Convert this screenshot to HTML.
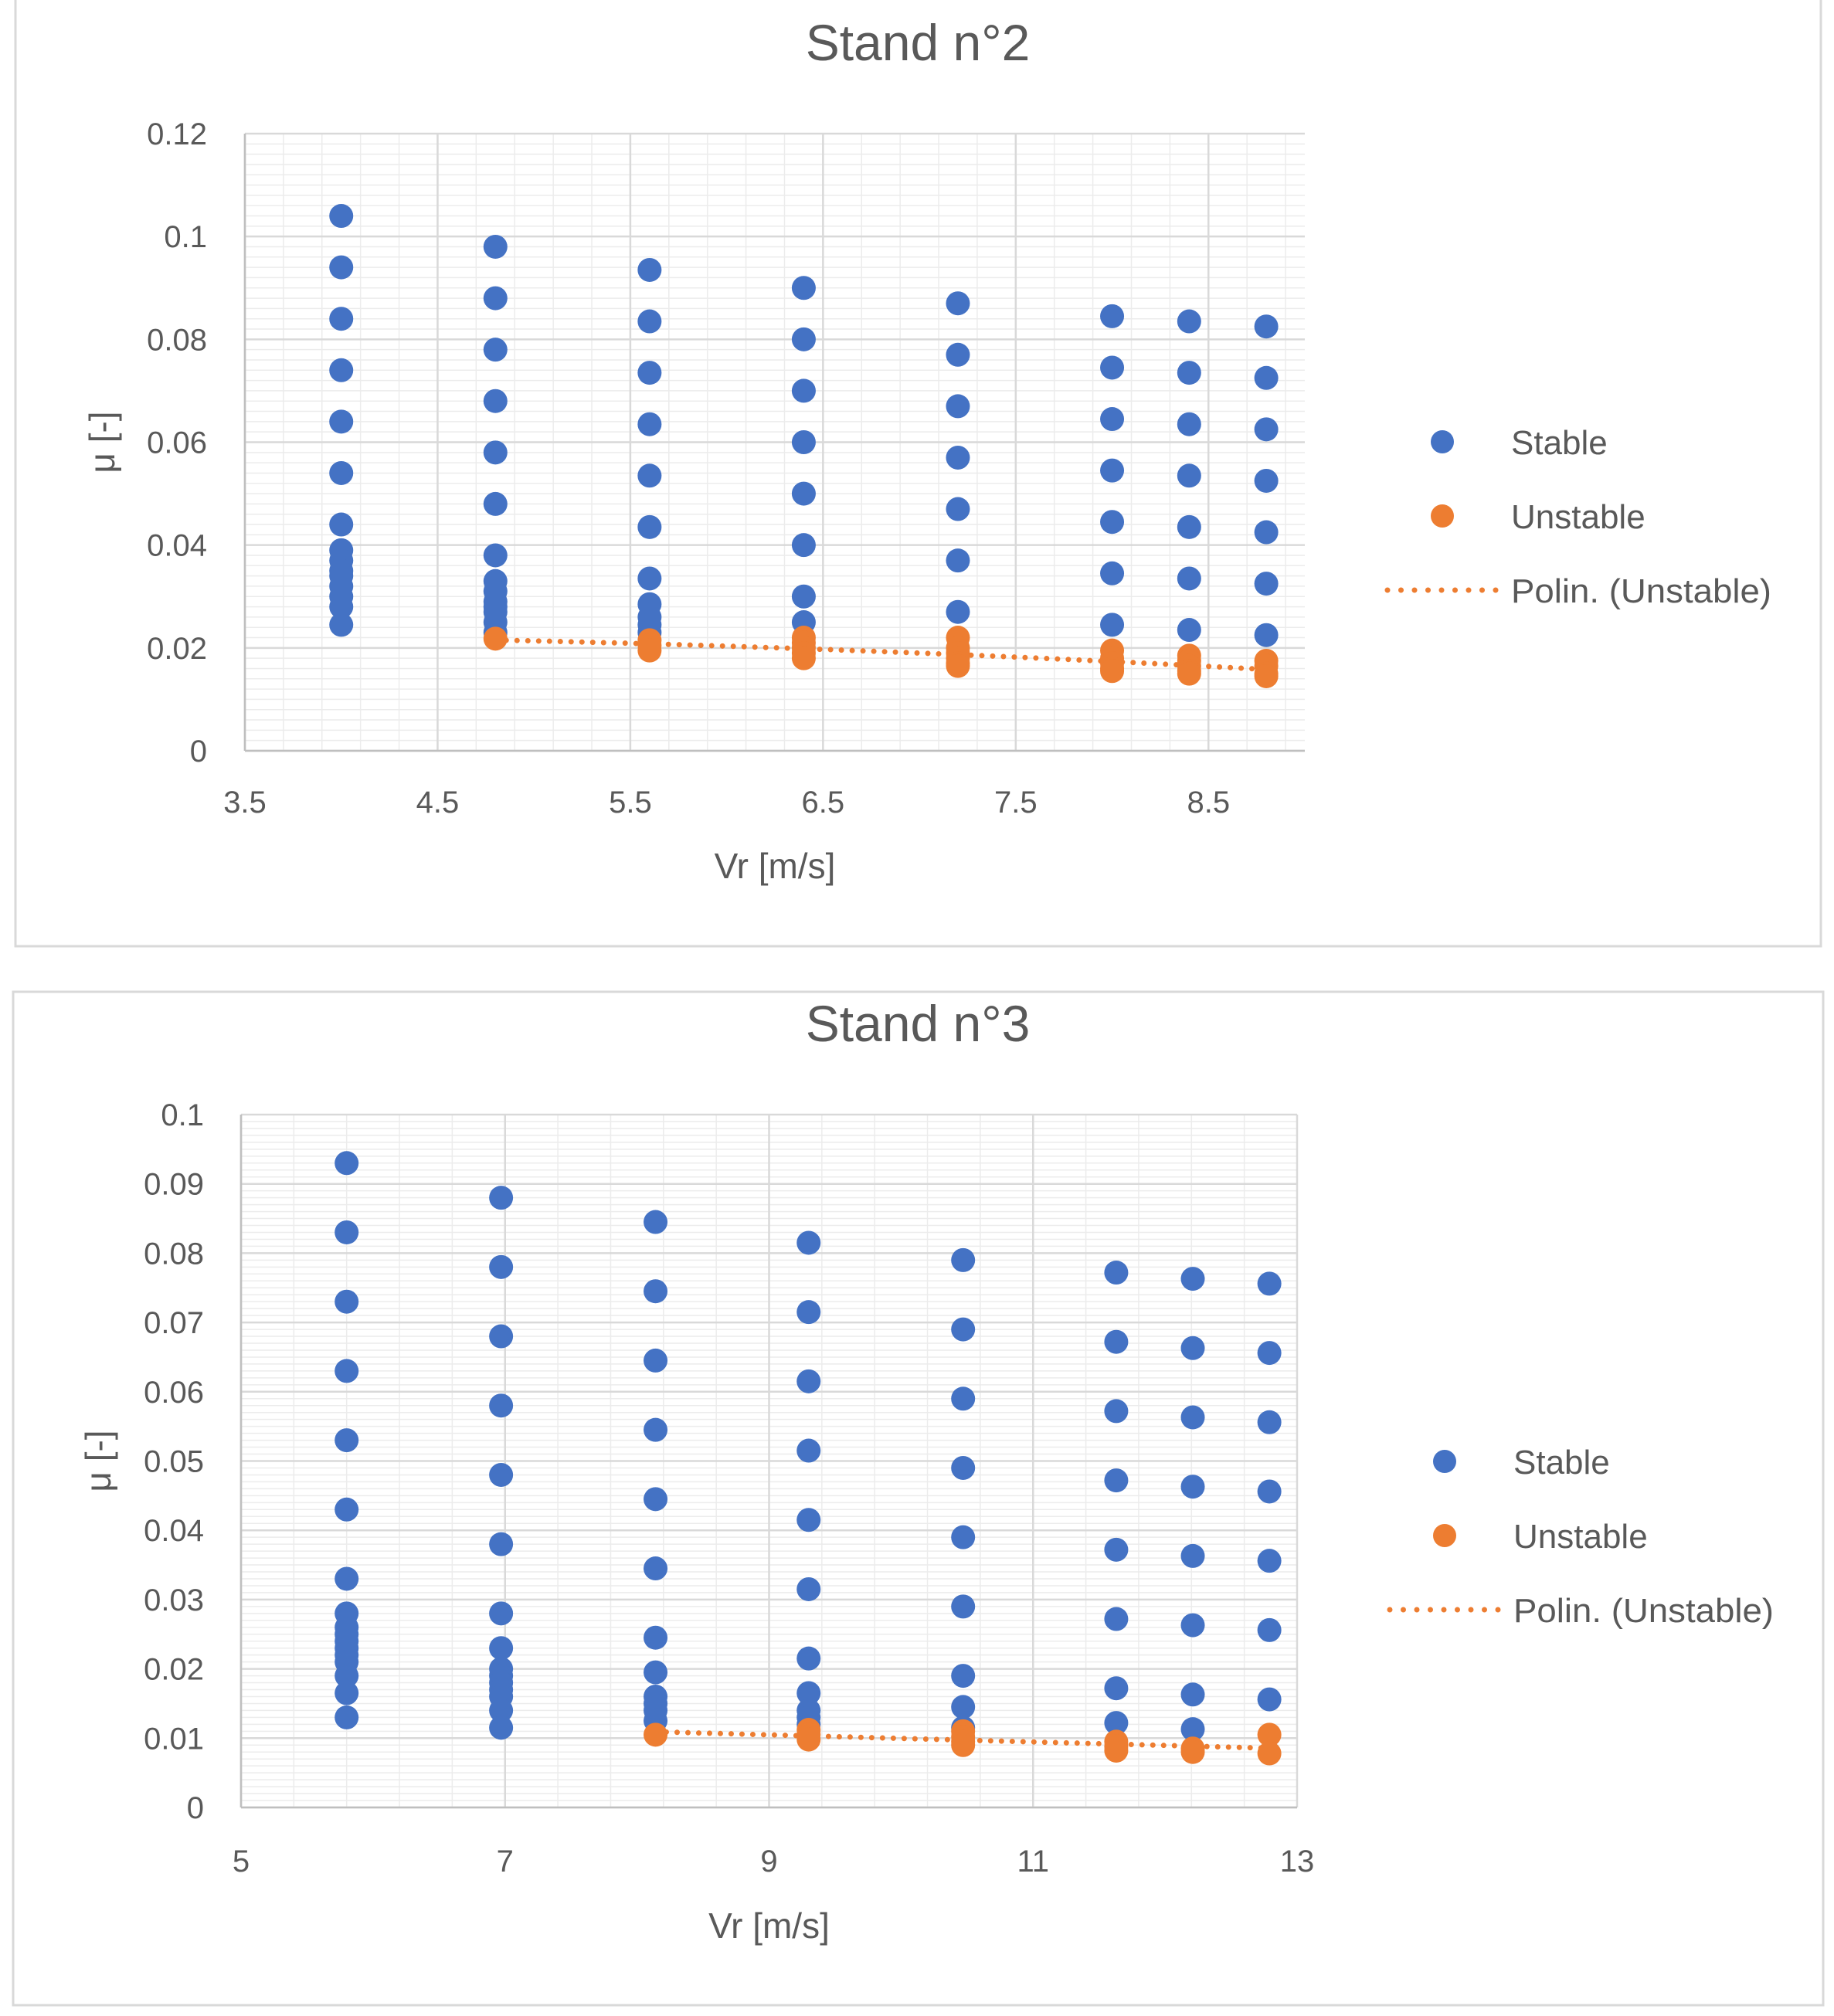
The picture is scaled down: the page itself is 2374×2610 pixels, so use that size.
<!DOCTYPE html>
<html><head><meta charset="utf-8"><style>
html,body{margin:0;padding:0;background:#fff}
svg{display:block;font-family:"Liberation Sans",sans-serif}
</style></head><body>
<svg id="root" width="2374" height="2610" viewBox="0 0 2374 2610" xmlns="http://www.w3.org/2000/svg">
<rect x="0" y="0" width="2374" height="2610" fill="#fff"/>
<g id="c1"></g>
<g id="c2"></g>
</svg>
<script>
// ---- Chart 1 data (Stand n°2) ----
const c1StableX = [4.0,4.8,5.6,6.4,7.2,8.0,8.4,8.8];
const c1StableY = [
 [0.104,0.094,0.084,0.074,0.064,0.054,0.044,0.039,0.037,0.035,0.034,0.032,0.030,0.028,0.0245],
 [0.098,0.088,0.078,0.068,0.058,0.048,0.038,0.033,0.031,0.029,0.028,0.027,0.025,0.023],
 [0.0935,0.0835,0.0735,0.0635,0.0535,0.0435,0.0335,0.0285,0.026,0.0245,0.023],
 [0.090,0.080,0.070,0.060,0.050,0.040,0.030,0.025],
 [0.087,0.077,0.067,0.057,0.047,0.037,0.027],
 [0.0845,0.0745,0.0645,0.0545,0.0445,0.0345,0.0245],
 [0.0835,0.0735,0.0635,0.0535,0.0435,0.0335,0.0235],
 [0.0825,0.0725,0.0625,0.0525,0.0425,0.0325,0.0225]
];
const c1UnstableX = [4.8,5.6,6.4,7.2,8.0,8.4,8.8];
const c1UnstableY = [
 [0.0218],
 [0.0215,0.0205,0.0195],
 [0.022,0.021,0.020,0.019,0.018],
 [0.022,0.020,0.019,0.018,0.017,0.0165],
 [0.0195,0.018,0.017,0.016,0.0155],
 [0.0185,0.0175,0.0165,0.0155,0.015],
 [0.0175,0.0165,0.015,0.0145]
];
const c1XTicks = ["3.5","4.5","5.5","6.5","7.5","8.5"];
const c1YTicks = ["0","0.02","0.04","0.06","0.08","0.1","0.12"];

// ---- Chart 2 data (Stand n°3) ----
const c2StableX = [5.8,6.97,8.14,9.3,10.47,11.63,12.21,12.79];
const c2StableY = [
 [0.093,0.083,0.073,0.063,0.053,0.043,0.033,0.028,0.026,0.025,0.024,0.023,0.022,0.021,0.019,0.0165,0.013],
 [0.088,0.078,0.068,0.058,0.048,0.038,0.028,0.023,0.020,0.019,0.018,0.017,0.016,0.014,0.0115],
 [0.0845,0.0745,0.0645,0.0545,0.0445,0.0345,0.0245,0.0195,0.016,0.015,0.014,0.0125],
 [0.0815,0.0715,0.0615,0.0515,0.0415,0.0315,0.0215,0.0165,0.014,0.013,0.012],
 [0.079,0.069,0.059,0.049,0.039,0.029,0.019,0.0145,0.0115],
 [0.0772,0.0672,0.0572,0.0472,0.0372,0.0272,0.0172,0.0122],
 [0.0763,0.0663,0.0563,0.0463,0.0363,0.0263,0.0163,0.0113],
 [0.0756,0.0656,0.0556,0.0456,0.0356,0.0256,0.0156]
];
const c2UnstableX = [8.14,9.3,10.47,11.63,12.21,12.79];
const c2UnstableY = [
 [0.0105],
 [0.0112,0.0105,0.0098],
 [0.011,0.0102,0.0095,0.009],
 [0.0095,0.0088,0.0082],
 [0.0085,0.008],
 [0.0105,0.0078]
];
const c2XTicks = ["5","7","9","11","13"];
const c2YTicks = ["0","0.01","0.02","0.03","0.04","0.05","0.06","0.07","0.08","0.09","0.1"];

const NS="http://www.w3.org/2000/svg";
function mk(parent,tag,attrs,text){
  const e=document.createElementNS(NS,tag);
  for(const k in attrs) e.setAttribute(k,attrs[k]);
  if(text!==undefined) e.textContent=text;
  parent.appendChild(e); return e;
}
function fitQuad(xs,ys){
  let S=[0,0,0,0,0],T=[0,0,0];
  for(let i=0;i<xs.length;i++){let p=1;for(let k=0;k<5;k++){S[k]+=p;if(k<3)T[k]+=p*ys[i];p*=xs[i];}}
  const A=[[S[0],S[1],S[2],T[0]],[S[1],S[2],S[3],T[1]],[S[2],S[3],S[4],T[2]]];
  for(let i=0;i<3;i++){for(let j=i+1;j<3;j++){const f=A[j][i]/A[i][i];for(let k=i;k<4;k++)A[j][k]-=f*A[i][k];}}
  const c=[0,0,0];
  for(let i=2;i>=0;i--){let s=A[i][3];for(let k=i+1;k<3;k++)s-=A[i][k]*c[k];c[i]=s/A[i][i];}
  return x=>c[0]+c[1]*x+c[2]*x*x;
}
function drawChart(g,cfg){
  const {frame,title,titleY,px0,px1,py0,py1,xmin,xmax,ymin,ymax,xMajor,xMinor,yMajor,yMinor,
    xTicks,yTicks,sX,sY,uX,uY,ytX,xtY,ylabX,xlabY,legX,legY}=cfg;
  const X=v=>px0+(v-xmin)/(xmax-xmin)*(px1-px0);
  const Y=v=>py0-(v-ymin)/(ymax-ymin)*(py0-py1);
  const fr=mk(g,'rect',{x:frame[0],y:frame[1],width:frame[2],height:frame[3],fill:'#fff',stroke:'#d9d9d9','stroke-width':3});
  
  
  const t=mk(g,'text',{x:1188,y:titleY,'font-size':66,fill:'#595959','text-anchor':'middle'},title);
  
  
  const grid=mk(g,'g',{});
  
  
  const eps=1e-9;
  for(let v=ymin;v<=ymax+eps;v+=yMinor){mk(grid,'line',{x1:px0,x2:px1,y1:Y(v),y2:Y(v),stroke:'#ececec','stroke-width':1.5});}
  for(let i=0;xmin+i*xMinor<=xmax+eps;i++){const v=xmin+i*xMinor;mk(grid,'line',{x1:X(v),x2:X(v),y1:py0,y2:py1,stroke:'#ececec','stroke-width':1.5});}
  for(let i=0;ymin+i*yMajor<=ymax+eps;i++){const v=ymin+i*yMajor;mk(grid,'line',{x1:px0,x2:px1,y1:Y(v),y2:Y(v),stroke:'#d9d9d9','stroke-width':2.5});}
  for(let i=0;xmin+i*xMajor<=xmax+eps;i++){const v=xmin+i*xMajor;mk(grid,'line',{x1:X(v),x2:X(v),y1:py0,y2:py1,stroke:'#d9d9d9','stroke-width':2.5});}
  mk(grid,'line',{x1:px0,x2:px1,y1:py0,y2:py0,stroke:'#bfbfbf','stroke-width':2.5});
  mk(grid,'line',{x1:px0,x2:px0,y1:py0,y2:py1,stroke:'#bfbfbf','stroke-width':2.5});
  yTicks.forEach((lab,i)=>{
    const e=mk(g,'text',{x:ytX,y:Y(ymin+i*yMajor)+14,'font-size':40,fill:'#595959','text-anchor':'end'},lab);
    
    
  });
  xTicks.forEach((lab,i)=>{
    const e=mk(g,'text',{x:X(xmin+i*xMajor),y:xtY,'font-size':40,fill:'#595959','text-anchor':'middle'},lab);
    
    
  });
  const xl=mk(g,'text',{x:(px0+px1)/2,y:xlabY,'font-size':46,fill:'#595959','text-anchor':'middle'},'Vr [m/s]');
  
  
  const yl=mk(g,'text',{x:0,y:0,'font-size':46,fill:'#595959','text-anchor':'middle',transform:`translate(${ylabX},${(py0+py1)/2}) rotate(-90)`},'μ [-]');
  
  
  const fx=[],fy=[];
  uX.forEach((x,i)=>uY[i].forEach(y=>{fx.push(x);fy.push(y);}));
  const f=fitQuad(fx,fy);
  let d='';const a=uX[0],b=uX[uX.length-1];
  for(let i=0;i<=60;i++){const x=a+(b-a)*i/60;d+=(i?'L':'M')+X(x).toFixed(1)+' '+Y(f(x)).toFixed(1);}
  const tl=mk(g,'path',{d:d,fill:'none',stroke:'#ed7d31','stroke-width':7,'stroke-dasharray':'0 14','stroke-linecap':'round'});
  
  
  const sg=mk(g,'g',{});
  
  
  sX.forEach((x,i)=>sY[i].forEach(y=>{
    const c=mk(sg,'circle',{cx:X(x),cy:Y(y),r:15.5,fill:'#4472c4'});
    
    
  }));
  const ug=mk(g,'g',{});
  
  
  uX.forEach((x,i)=>uY[i].forEach(y=>{
    const c=mk(ug,'circle',{cx:X(x),cy:Y(y),r:15.5,fill:'#ed7d31'});
    
    
  }));
  const lg=mk(g,'g',{});
  
  
  const e1=mk(lg,'circle',{cx:legX+75,cy:legY,r:15,fill:'#4472c4'});
  
  
  const t1=mk(lg,'text',{x:legX+164,y:legY+16,'font-size':44,fill:'#595959'},'Stable');
  
  
  const e2=mk(lg,'circle',{cx:legX+75,cy:legY+96,r:15,fill:'#ed7d31'});
  
  
  const t2=mk(lg,'text',{x:legX+164,y:legY+112,'font-size':44,fill:'#595959'},'Unstable');
  
  
  const e3=mk(lg,'line',{x1:legX+4,x2:legX+146,y1:legY+192,y2:legY+192,stroke:'#ed7d31','stroke-width':7,'stroke-dasharray':'0 17.5','stroke-linecap':'round'});
  
  
  const t3=mk(lg,'text',{x:legX+164,y:legY+208,'font-size':44,fill:'#595959',textLength:337,lengthAdjust:'spacingAndGlyphs'},'Polin. (Unstable)');
  
  
}
drawChart(document.getElementById('c1'),{
  frame:[20,-2,2337,1227],title:'Stand n°2',titleY:78,
  px0:317,px1:1689,py0:972,py1:173,xmin:3.5,xmax:9.0,ymin:0,ymax:0.12,
  xMajor:1,xMinor:0.2,yMajor:0.02,yMinor:0.002,
  xTicks:c1XTicks,yTicks:c1YTicks,sX:c1StableX,sY:c1StableY,uX:c1UnstableX,uY:c1UnstableY,
  ytX:268,xtY:1052,ylabX:148,xlabY:1137,legX:1792,legY:572
});
drawChart(document.getElementById('c2'),{
  frame:[17,1284,2343,1312],title:'Stand n°3',titleY:1348,
  px0:312,px1:1679,py0:2340,py1:1443,xmin:5,xmax:13,ymin:0,ymax:0.1,
  xMajor:2,xMinor:0.4,yMajor:0.01,yMinor:0.001,
  xTicks:c2XTicks,yTicks:c2YTicks,sX:c2StableX,sY:c2StableY,uX:c2UnstableX,uY:c2UnstableY,
  ytX:264,xtY:2423,ylabX:143,xlabY:2509,legX:1795,legY:1892
});
</script>
</body></html>
